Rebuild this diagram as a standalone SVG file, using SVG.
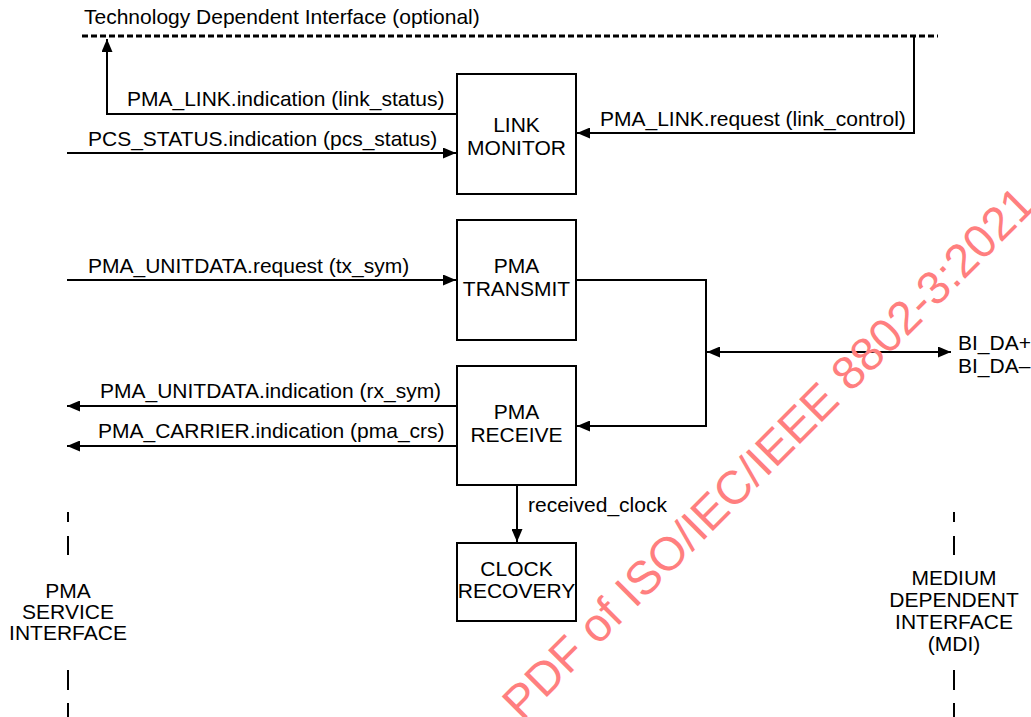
<svg xmlns="http://www.w3.org/2000/svg" width="1031" height="717" viewBox="0 0 1031 717">
<style>
text{font-family:"Liberation Sans",Arial,sans-serif;font-size:21px;fill:#000}
.c{text-anchor:middle}
.box{fill:#fff;stroke:#000;stroke-width:2}
.ln{fill:none;stroke:#000;stroke-width:2}
.dash{fill:none;stroke:#000;stroke-width:2}
.wm{font-size:47px;fill:#ff7f7f}
</style>
<defs>
<marker id="ah" markerWidth="13" markerHeight="11" refX="13" refY="5.5" orient="auto-start-reverse" markerUnits="userSpaceOnUse">
<path d="M0,0 L13,5.5 L0,11 z" fill="#000"/>
</marker>
</defs>
<rect width="1031" height="717" fill="#fff"/>

<g id="tdi">
<text x="84" y="24">Technology Dependent Interface (optional)</text>
<line x1="82" y1="36" x2="938" y2="36" stroke="#000" stroke-width="3" stroke-dasharray="6,3"/>
</g>

<g id="connectors">
<polyline class="ln" points="457,114 107,114 107,39" marker-end="url(#ah)"/>
<line class="ln" x1="67" y1="153" x2="456" y2="153" marker-end="url(#ah)"/>
<polyline class="ln" points="914,36 914,133 577,133" marker-end="url(#ah)"/>
<line class="ln" x1="67" y1="280" x2="456" y2="280" marker-end="url(#ah)"/>
<polyline class="ln" points="576,280 706,280 706,426 577,426" marker-end="url(#ah)"/>
<line class="ln" x1="707" y1="352" x2="951" y2="352" marker-start="url(#ah)" marker-end="url(#ah)"/>
<line class="ln" x1="457" y1="406" x2="67" y2="406" marker-end="url(#ah)"/>
<line class="ln" x1="457" y1="446" x2="67" y2="446" marker-end="url(#ah)"/>
<line class="ln" x1="517" y1="485" x2="517" y2="542" marker-end="url(#ah)"/>
<text x="127" y="106">PMA_LINK.indication (link_status)</text>
<text x="88" y="146">PCS_STATUS.indication (pcs_status)</text>
<text x="600" y="126">PMA_LINK.request (link_control)</text>
<text x="88" y="273">PMA_UNITDATA.request (tx_sym)</text>
<text x="100" y="398">PMA_UNITDATA.indication (rx_sym)</text>
<text x="98" y="438">PMA_CARRIER.indication (pma_crs)</text>
<text x="528" y="512">received_clock</text>
<text x="958" y="350">BI_DA+</text>
<text x="958" y="373">BI_DA–</text>
</g>

<g id="link-monitor">
<rect class="box" x="457" y="74" width="119" height="120"/>
<text class="c" x="516.5" y="132">LINK</text>
<text class="c" x="516.5" y="155">MONITOR</text>
</g>
<g id="pma-transmit">
<rect class="box" x="457" y="220" width="119" height="120"/>
<text class="c" x="516.5" y="273">PMA</text>
<text class="c" x="516.5" y="296">TRANSMIT</text>
</g>
<g id="pma-receive">
<rect class="box" x="457" y="366" width="119" height="119"/>
<text class="c" x="516.5" y="419">PMA</text>
<text class="c" x="516.5" y="442">RECEIVE</text>
</g>
<g id="clock-recovery">
<rect class="box" x="457" y="543" width="119" height="78"/>
<text class="c" x="516.5" y="576">CLOCK</text>
<text class="c" x="516.5" y="598">RECOVERY</text>
</g>

<g id="pma-service-interface">
<path class="dash" d="M68,512 V522 M68,536 V555 M68,670 V690 M68,703 V717"/>
<text class="c" x="68" y="598">PMA</text>
<text class="c" x="68" y="619">SERVICE</text>
<text class="c" x="68" y="640">INTERFACE</text>
</g>
<g id="mdi">
<path class="dash" d="M954,512 V522 M954,536 V555 M954,670 V690 M954,703 V717"/>
<text class="c" x="954" y="585">MEDIUM</text>
<text class="c" x="954" y="607">DEPENDENT</text>
<text class="c" x="954" y="629">INTERFACE</text>
<text class="c" x="954" y="651">(MDI)</text>
</g>

<text class="wm" transform="translate(522,722) rotate(-45)">PDF of ISO/IEC/IEEE 8802-3:2021</text>
</svg>
